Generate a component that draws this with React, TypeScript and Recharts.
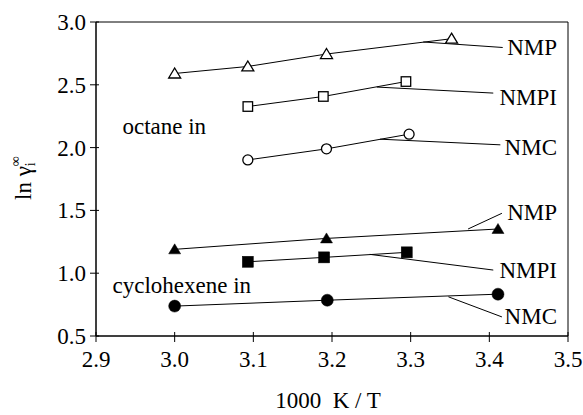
import React from 'react';
import {
  ScatterChart,
  Scatter,
  XAxis,
  YAxis,
  ReferenceLine,
  ReferenceDot,
  ReferenceArea,
  Customized,
} from 'recharts';

const FONT = '"Liberation Serif", "Times New Roman", Times, serif';
const FS = 23;

// ---- data (1000 K / T, ln gamma) ----
const octaneNMP_x = [3.0, 3.093, 3.193, 3.352];
const octaneNMP_y = [2.59, 2.646, 2.745, 2.867];
const octaneNMPI_x = [3.093, 3.189, 3.294];
const octaneNMPI_y = [2.327, 2.407, 2.526];
const octaneNMC_x = [3.093, 3.193, 3.298];
const octaneNMC_y = [1.902, 1.99, 2.107];
const cycloNMP_x = [3.0, 3.193, 3.411];
const cycloNMP_y = [1.19, 1.277, 1.352];
const cycloNMPI_x = [3.093, 3.19, 3.295];
const cycloNMPI_y = [1.091, 1.126, 1.166];
const cycloNMC_x = [3.0, 3.194, 3.411];
const cycloNMC_y = [0.738, 0.785, 0.833];

const xTicks = [2.9, 3.0, 3.1, 3.2, 3.3, 3.4, 3.5];
const yTicks = [0.5, 1.0, 1.5, 2.0, 2.5, 3.0];

// annotation labels and leader lines (data coordinates)
const labelNames = ['NMP', 'NMPI', 'NMC', 'NMP', 'NMPI', 'NMC'];
const labelX = 3.486;
const labelY = [2.803, 2.407, 2.008, 1.49, 1.025, 0.663];
const leaderX1 = [3.316, 3.257, 3.261, 3.373, 3.248, 3.348];
const leaderY1 = [2.841, 2.482, 2.067, 1.352, 1.15, 0.812];
const leaderX2 = [3.417, 3.405, 3.414, 3.416, 3.405, 3.416];
const leaderY2 = [2.797, 2.434, 2.022, 1.477, 1.025, 0.652];

const groupLabels = ['octane in', 'cyclohexene in'];
const groupLabelX = [2.9336, 2.921];
const groupLabelY = [2.173, 0.905];

const toPts = (xs: number[], ys: number[]) => xs.map((x, i) => ({ x, y: ys[i] }));

type Kind = 'triangle' | 'square' | 'circle';
const seriesList: { key: string; data: { x: number; y: number }[]; kind: Kind; filled: boolean }[] = [
  { key: 'oNMP', data: toPts(octaneNMP_x, octaneNMP_y), kind: 'triangle', filled: false },
  { key: 'oNMPI', data: toPts(octaneNMPI_x, octaneNMPI_y), kind: 'square', filled: false },
  { key: 'oNMC', data: toPts(octaneNMC_x, octaneNMC_y), kind: 'circle', filled: false },
  { key: 'cNMP', data: toPts(cycloNMP_x, cycloNMP_y), kind: 'triangle', filled: true },
  { key: 'cNMPI', data: toPts(cycloNMPI_x, cycloNMPI_y), kind: 'square', filled: true },
  { key: 'cNMC', data: toPts(cycloNMC_x, cycloNMC_y), kind: 'circle', filled: true },
];

const makeMarker = (kind: Kind, filled: boolean) => (props: any) => {
  const { cx, cy } = props;
  if (cx == null || cy == null) return <g />;
  const fill = filled ? '#000' : '#fff';
  const sw = filled ? 0.5 : 1.3;
  if (kind === 'triangle') {
    const pts = `${cx},${cy - 5.5} ${cx + 6},${cy + 4.5} ${cx - 6},${cy + 4.5}`;
    return <polygon points={pts} fill={fill} stroke="#000" strokeWidth={sw} />;
  }
  if (kind === 'square') {
    const s = filled ? 11 : 9.5;
    return <rect x={cx - s / 2} y={cy - s / 2} width={s} height={s} fill={fill} stroke="#000" strokeWidth={sw} />;
  }
  const r = filled ? 6 : 5;
  return <circle cx={cx} cy={cy} r={r} fill={fill} stroke="#000" strokeWidth={sw} />;
};

const XTick = (props: any) => {
  const { x, y, payload } = props;
  return (
    <g>
      <line x1={x} x2={x} y1={y - 4} y2={y + 6} stroke="#000" strokeWidth={1} />
      <text x={x} y={y + 31} textAnchor="middle" fontFamily={FONT} fontSize={FS} fill="#000">
        {Number(payload.value).toFixed(1)}
      </text>
    </g>
  );
};

const YTick = (props: any) => {
  const { x, y, payload } = props;
  return (
    <g>
      <line x1={x - 6} x2={x + 3} y1={y} y2={y} stroke="#000" strokeWidth={1} />
      <text x={x - 10} y={y + 8} textAnchor="end" fontFamily={FONT} fontSize={FS} fill="#000">
        {Number(payload.value).toFixed(1)}
      </text>
    </g>
  );
};

const AxisTitles = () => (
  <g>
    <text
      x={328}
      y={408}
      textAnchor="middle"
      fontFamily={FONT}
      fontSize={FS}
      fill="#000"
      style={{ whiteSpace: 'pre' }}
    >
      {'1000  K / T'}
    </text>
    <text transform="rotate(-90, 31, 200)" x={31} y={200} fontFamily={FONT} fontSize={FS} fill="#000">
      <tspan>ln γ</tspan>
      <tspan fontSize={14} dy={4}>i</tspan>
      <tspan fontSize={14} dx={-4} dy={-15}>∞</tspan>
    </text>
  </g>
);

const textShape = (value: string, anchor: 'start' | 'end') => (props: any) => (
  <text
    x={props.cx}
    y={props.cy}
    dy="0.35em"
    textAnchor={anchor}
    fontFamily={FONT}
    fontSize={FS}
    fill="#000"
  >
    {value}
  </text>
);

export default function App() {
  return (
    <div style={{ position: 'absolute', left: 0, top: 0, background: '#fff' }}>
      <ScatterChart
        width={583}
        height={415}
        margin={{ top: 22, right: 15, bottom: 39, left: 36 }}
      >
        <XAxis
          type="number"
          dataKey="x"
          domain={[2.9, 3.5]}
          ticks={xTicks}
          allowDataOverflow
          height={40}
          tickSize={0}
          tickMargin={0}
          tickLine={false}
          tick={<XTick />}
          axisLine={{ stroke: '#000', strokeWidth: 1 }}
          interval={0}
        />
        <YAxis
          type="number"
          dataKey="y"
          domain={[0.5, 3.0]}
          ticks={yTicks}
          allowDataOverflow
          width={60}
          tickSize={0}
          tickMargin={0}
          tickLine={false}
          tick={<YTick />}
          axisLine={{ stroke: '#000', strokeWidth: 1 }}
          interval={0}
        />
        <ReferenceArea x1={2.9} x2={3.5} y1={0.5} y2={3.0} fill="none" fillOpacity={0} stroke="#000" strokeWidth={1} />
        {labelNames.map((_, i) => (
          <ReferenceLine
            key={'lead' + i}
            segment={[
              { x: leaderX1[i], y: leaderY1[i] },
              { x: leaderX2[i], y: leaderY2[i] },
            ]}
            stroke="#000"
            strokeWidth={1}
          />
        ))}
        {seriesList.map((s) => (
          <Scatter
            key={s.key}
            data={s.data}
            line={{ stroke: '#000', strokeWidth: 1 }}
            shape={makeMarker(s.kind, s.filled)}
            isAnimationActive={false}
          />
        ))}
        {labelNames.map((name, i) => (
          <ReferenceDot
            key={'lab' + i}
            x={labelX}
            y={labelY[i]}
            r={0}
            shape={textShape(name, 'end')}
          />
        ))}
        {groupLabels.map((name, i) => (
          <ReferenceDot
            key={'grp' + i}
            x={groupLabelX[i]}
            y={groupLabelY[i]}
            r={0}
            shape={textShape(name, 'start')}
          />
        ))}
        <Customized component={AxisTitles} />
      </ScatterChart>
    </div>
  );
}
